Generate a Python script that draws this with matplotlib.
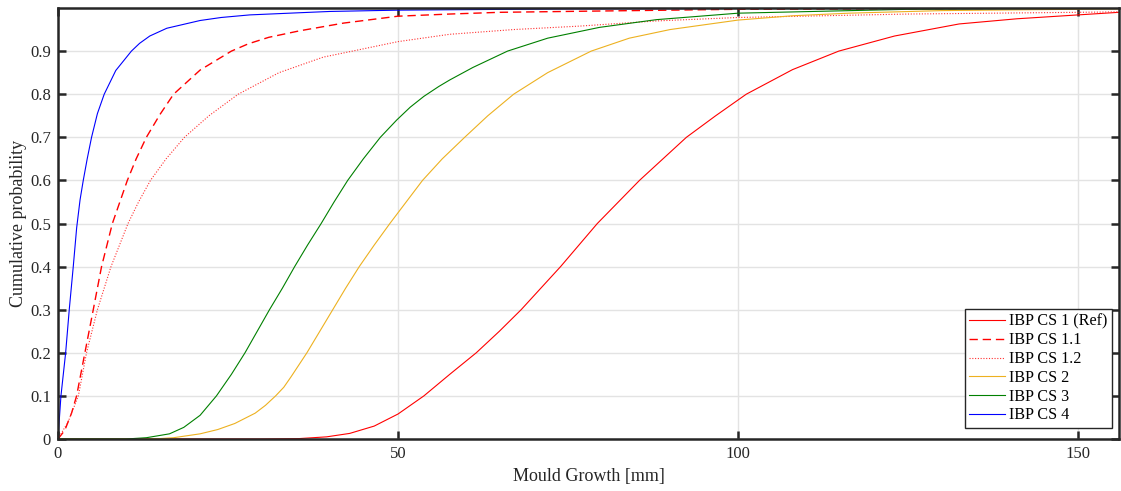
import matplotlib
matplotlib.use("Agg")
import matplotlib.pyplot as plt

# ---- data ----
cs1_x = [0, 30, 35.5, 39.5, 42.9, 46.5, 50, 53.8, 57.6, 61.5, 64.9, 68.1, 73.9, 79.3, 85.5, 92.4, 96.7,
         101.2, 108.0, 114.8, 123.0, 132.5, 141.0, 150, 156]
cs1_y = [0, 0, 0.001, 0.005, 0.013, 0.03, 0.058, 0.10, 0.15, 0.20, 0.25, 0.30, 0.40, 0.50, 0.60, 0.70, 0.75,
         0.80, 0.857, 0.90, 0.935, 0.963, 0.975, 0.984, 0.99]

cs11_x = [0, 1.0, 2.0, 2.74, 3.96, 5.19, 6.41, 8.0, 10.2, 11.5, 13.0, 15.0, 17.0, 20.9, 25.5, 28.0, 31.0,
          35.5, 42.0, 50, 57.6, 65, 79.6, 100, 156]
cs11_y = [0, 0.02, 0.06, 0.10, 0.20, 0.30, 0.40, 0.50, 0.60, 0.65, 0.70, 0.753, 0.80, 0.856, 0.90, 0.917, 0.932,
          0.947, 0.965, 0.981, 0.986, 0.99, 0.993, 0.997, 1.0]

cs12_x = [0, 1.5, 3.0, 4.2, 5.8, 7.8, 10.3, 11.85, 13.6, 15.9, 18.6, 20.9, 22.2, 26.5, 32.5, 39.0,
          43.3, 50, 57.6, 67, 76.7, 88, 100, 125, 150, 156]
cs12_y = [0, 0.04, 0.10, 0.20, 0.30, 0.40, 0.50, 0.55, 0.60, 0.65, 0.70, 0.732, 0.75, 0.80, 0.85, 0.886,
          0.90, 0.922, 0.939, 0.95, 0.958, 0.97, 0.978, 0.986, 0.99, 0.991]

cs2_x = [0, 15, 17, 20.9, 23.5, 26, 29, 30.5, 32.0, 33.2, 34.3, 36.6, 38.5, 40.4, 42.3, 44.3, 46.5, 48.8, 51.2, 53.6,
         56.5, 59.8, 63.2, 67.0, 72.0, 78.4, 84.0, 90, 100, 108, 116.3, 130, 156]
cs2_y = [0, 0.001, 0.003, 0.012, 0.022, 0.036, 0.06, 0.078, 0.10, 0.12, 0.145, 0.20, 0.25, 0.30, 0.35, 0.40, 0.45,
         0.50, 0.55, 0.60, 0.65, 0.70, 0.75, 0.80, 0.85, 0.90, 0.93, 0.95, 0.972, 0.982, 0.988, 0.994, 0.998]

cs3_x = [0, 10, 13, 16.4, 18.5, 20.9, 23.3, 25.5, 27.5, 29.3, 31.1, 33.0, 34.8, 36.7, 38.7, 40.6, 42.6,
         44.9, 47.4, 49.8, 51.8, 53.8, 56.0, 57.6, 61.0, 66.1, 72.0, 79.6, 88.0, 100, 125, 156]
cs3_y = [0, 0, 0.003, 0.012, 0.027, 0.055, 0.10, 0.15, 0.20, 0.25, 0.30, 0.35, 0.40, 0.45, 0.50, 0.55, 0.60,
         0.65, 0.70, 0.74, 0.77, 0.795, 0.818, 0.833, 0.862, 0.90, 0.93, 0.955, 0.973, 0.988, 0.997, 1.0]

cs4_x = [0, 0.44, 1.13, 1.66, 2.25, 2.75, 3.25, 3.72, 4.3, 4.94, 5.8, 6.8, 8.5, 10.8, 12.0, 13.5, 16.0,
         20.9, 24.0, 28.2, 35.5, 40.0, 50, 75, 100, 156]
cs4_y = [0, 0.10, 0.20, 0.30, 0.40, 0.49, 0.555, 0.60, 0.65, 0.70, 0.755, 0.80, 0.855, 0.90, 0.918, 0.935, 0.953,
         0.971, 0.978, 0.984, 0.989, 0.992, 0.995, 0.998, 0.999, 1.0]

labels = ["IBP CS 1 (Ref)", "IBP CS 1.1", "IBP CS 1.2", "IBP CS 2", "IBP CS 3", "IBP CS 4"]
x_ticks = [0, 50, 100, 150]
y_ticks = [0, 0.1, 0.2, 0.3, 0.4, 0.5, 0.6, 0.7, 0.8, 0.9]
y_tick_labels = ["0", "0.1", "0.2", "0.3", "0.4", "0.5", "0.6", "0.7", "0.8", "0.9"]

plt.rcParams['font.family'] = ['Liberation Serif', 'DejaVu Serif']

fig = plt.figure(figsize=(11.21, 4.91), dpi=100)
ax = fig.add_axes([0.0517, 0.1059, 0.9465, 0.8778])

lw = 0.8
ax.plot(cs1_x, cs1_y, color='#ff0000', lw=lw, label=labels[0])
ax.plot(cs11_x, cs11_y, color='#ff0000', lw=1.0, ls=(0, (6, 3.5)), label=labels[1])
ax.plot(cs12_x, cs12_y, color='#ff3030', lw=0.8, ls=(0, (1, 1.5)), label=labels[2])
ax.plot(cs2_x, cs2_y, color='#EDB120', lw=lw, label=labels[3])
ax.plot(cs3_x, cs3_y, color='#008000', lw=lw, label=labels[4])
ax.plot(cs4_x, cs4_y, color='#0000ff', lw=lw, label=labels[5])

ax.set_xlim(0, 156)
ax.set_ylim(0, 1)
ax.set_xticks(x_ticks)
ax.set_yticks(y_ticks)
ax.set_yticklabels(y_tick_labels)
ax.grid(True, color='#e3e3e3', lw=1.0)
ax.set_axisbelow(True)

for s in ax.spines.values():
    s.set_linewidth(1.8)
    s.set_color('#262626')
ax.tick_params(direction='in', length=6, width=1.8, color='#262626',
               top=True, right=True, labelsize=12, labelcolor='#262626', pad=5)

ax.set_xlabel("Mould Growth [mm]", fontsize=13, color='#262626', labelpad=4)
ax.set_ylabel("Cumulative probability", fontsize=13, color='#262626', labelpad=2)

leg = ax.legend(loc='lower right', bbox_to_anchor=(0.9935, 0.025), fontsize=11.6,
                frameon=True, fancybox=False, framealpha=1, edgecolor='#262626',
                handlelength=2.2, handletextpad=0.25, borderpad=0.3, labelspacing=0.17,
                borderaxespad=0)
leg.get_frame().set_linewidth(1.0)

fig.savefig("out.png", dpi=100)
